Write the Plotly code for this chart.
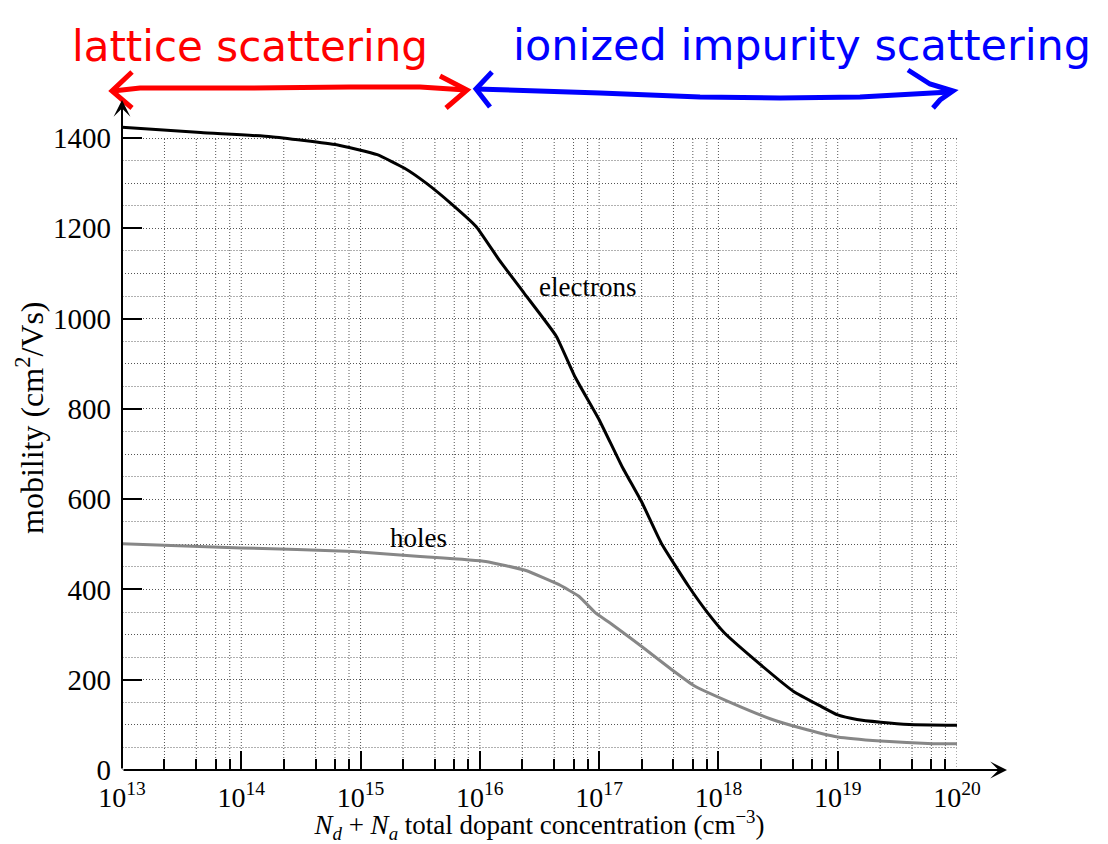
import plotly.graph_objects as go

# ---------------- data ----------------
electron_conc = [1.0e13, 4.57e13, 1.77e14, 6.3e14, 1.38e15, 2.34e15, 3.55e15, 5.9e15,
                 9.3e15, 1.45e16, 2.34e16, 4.37e16, 6.3e16, 1.0e17, 1.55e17, 2.29e17,
                 3.31e17, 5.62e17, 8.13e17, 1.12e18, 2.0e18, 4.27e18, 7.24e18, 1.0e19,
                 1.45e19, 2.29e19, 3.98e19, 1.08e20]
electron_mob = [1424, 1412, 1403, 1385, 1363, 1333, 1300, 1252,
                1204, 1130, 1057, 961, 870, 776, 673, 592,
                503, 407, 348, 304, 245, 174, 141, 122,
                112, 106, 101, 99]

hole_conc = [1.0e13, 1.0e14, 8.7e14, 3.16e15, 1.12e16, 2.43e16, 4.57e16, 6.76e16,
             9.33e16, 1.26e17, 2.29e17, 4.07e17, 6.31e17, 1.2e18, 2.75e18,
             4.9e18, 1.0e19, 2.29e19, 6.3e19, 1.0e20]
hole_mob = [501, 492, 484, 473, 462, 442, 411, 385,
            348, 324, 273, 222, 186, 152, 113,
            93, 73, 64, 58, 58]

x_exponents = list(range(13, 21))
x_tick_vals = [10.0 ** e for e in x_exponents]
x_tick_text = [f"10<sup>{e}</sup>" for e in x_exponents]
x_minor_mantissas = [2.27, 4.2, 6.1, 8.0]
y_tick_vals = list(range(0, 1401, 200))
y_mid_vals = list(range(100, 1400, 200))
y_light_vals = list(range(50, 1400, 100))
y_grid_top = 1400

# ---------------- layout geometry (reference-pixel frame) ----------------
OFF = 8                      # page body margin
W, H = 1108 - OFF, 844 - OFF
L, R, T, B = 122, 957, 115, 770  # plot area in reference pixels
T1400 = 138                      # pixel row of the 1400 gridline
y_top = y_grid_top * (B - T) / (B - T1400)


def paper(px, py):
    return ((px - L) / (R - L), (B - py) / (B - T))


def path(points):
    segs = []
    for i, (px, py) in enumerate(points):
        xp, yp = paper(px, py)
        segs.append(("M" if i == 0 else "L") + f"{xp:.5f},{yp:.5f}")
    return " ".join(segs)


FONT = "Liberation Serif"
GRID = "#555555"

fig = go.Figure()
fig.add_trace(go.Scatter(x=electron_conc, y=electron_mob, mode="lines",
                         line=dict(color="black", width=3, shape="spline", smoothing=0.4),
                         hoverinfo="skip"))
fig.add_trace(go.Scatter(x=hole_conc, y=hole_mob, mode="lines", yaxis="y2",
                         line=dict(color="#878787", width=3, shape="spline", smoothing=0.4),
                         hoverinfo="skip"))

minor_x = [m * v for v in x_tick_vals[:-1] for m in x_minor_mantissas]

fig.update_layout(
    width=W, height=H,
    margin=dict(l=L - OFF, r=1108 - R, t=T - OFF, b=844 - B, pad=0),
    paper_bgcolor="white", plot_bgcolor="white",
    showlegend=False,
    font=dict(family=FONT, size=28, color="black"),
    xaxis=dict(
        type="log", range=[13, 20],
        tickmode="array", tickvals=x_tick_vals, ticktext=x_tick_text,
        ticks="inside", ticklen=19, tickwidth=1.5, tickcolor="black",
        ticklabelstandoff=8,
        showgrid=False, showline=False, zeroline=False,
        tickfont=dict(family=FONT, size=28),
        minor=dict(tickmode="array", tickvals=minor_x, ticks="inside", ticklen=11,
                   tickwidth=1.5, tickcolor="black", showgrid=False),
        title=dict(text="<i>N<sub>d</sub></i> + <i>N<sub>a</sub></i> total dopant concentration (cm<sup>−3</sup>)",
                   font=dict(family=FONT, size=27), standoff=0),
    ),
    yaxis=dict(
        range=[0, y_top],
        tickmode="array", tickvals=y_tick_vals,
        ticks="inside", ticklen=20, tickwidth=1.5, tickcolor="black",
        ticklabelstandoff=10,
        showgrid=True, gridcolor=GRID, griddash="1px,2px", gridwidth=1,
        showline=False, zeroline=False,
        tickfont=dict(family=FONT, size=29),
        minor=dict(tickmode="array", tickvals=y_mid_vals, ticks="", showgrid=True,
                   gridcolor=GRID, griddash="1px,2px", gridwidth=1),
    ),
    yaxis2=dict(
        overlaying="y", matches="y", range=[0, y_top],
        tickmode="array", tickvals=y_light_vals, showticklabels=False, ticks="",
        showgrid=True, gridcolor="#b0b0b0", griddash="2px,1px", gridwidth=1,
        showline=False, zeroline=False,
    ),
)

annotations = []
# axis arrows
xa, _ = paper(1007, B)
annotations.append(dict(xref="paper", yref="paper", x=xa, y=0, ax=L - 1007, ay=0,
                        axref="pixel", ayref="pixel", text="", showarrow=True,
                        arrowhead=3, arrowsize=1.4, arrowwidth=2, arrowcolor="black"))
_, ya = paper(L, 100)
annotations.append(dict(xref="paper", yref="paper", x=0, y=ya, ax=0, ay=B - 100,
                        axref="pixel", ayref="pixel", text="", showarrow=True,
                        arrowhead=3, arrowsize=1.4, arrowwidth=2, arrowcolor="black"))
# y axis title
xp, yp = paper(30, 418)
annotations.append(dict(xref="paper", yref="paper", x=xp, y=yp, textangle=-90,
                        xanchor="center", yanchor="middle",
                        text="mobility (cm<sup>2</sup>/Vs)", showarrow=False,
                        font=dict(family=FONT, size=32)))
# curve labels (data coords; log axis uses exponent)
annotations.append(dict(x=16.906, y=1071, xref="x", yref="y", text="electrons",
                        showarrow=False, font=dict(family=FONT, size=27)))
annotations.append(dict(x=15.482, y=513, xref="x", yref="y", text="holes",
                        showarrow=False, font=dict(family=FONT, size=27)))
# handwritten headings
xp, yp = paper(250, 47)
annotations.append(dict(xref="paper", yref="paper", x=xp, y=yp, xanchor="center",
                        yanchor="middle", text="lattice scattering", showarrow=False,
                        font=dict(family="DejaVu Sans", size=42, color="#ff0000")))
xp, yp = paper(802, 45)
annotations.append(dict(xref="paper", yref="paper", x=xp, y=yp, xanchor="center",
                        yanchor="middle", text="ionized impurity scattering",
                        showarrow=False,
                        font=dict(family="DejaVu Sans", size=43, color="#0000ff")))
fig.update_layout(annotations=annotations)

red = "#ff0000"
blue = "#0000ff"
shapes = []
# vertical dotted gridlines up to the 1400 line
for v in x_tick_vals + minor_x:
    shapes.append(dict(type="line", xref="x", yref="y", x0=v, x1=v, y0=0, y1=y_grid_top,
                       layer="below", line=dict(color=GRID, width=1, dash="1px,2px")))
shapes += [
    dict(type="path", xref="paper", yref="paper",
         path=path([(113, 91), (140, 88), (250, 88), (350, 87), (420, 87), (466, 90)]),
         line=dict(color=red, width=5)),
    dict(type="path", xref="paper", yref="paper",
         path=path([(132, 72), (112, 91), (132, 108)]), line=dict(color=red, width=5)),
    dict(type="path", xref="paper", yref="paper",
         path=path([(440, 76), (467, 90), (446, 108)]), line=dict(color=red, width=5)),
    dict(type="path", xref="paper", yref="paper",
         path=path([(476, 89), (600, 93), (700, 97), (780, 98), (860, 97), (950, 92)]),
         line=dict(color=blue, width=5)),
    dict(type="path", xref="paper", yref="paper",
         path=path([(492, 72), (476, 89), (490, 107)]), line=dict(color=blue, width=5)),
    dict(type="path", xref="paper", yref="paper",
         path=path([(908, 70), (930, 84), (953, 91), (940, 100), (933, 108)]),
         line=dict(color=blue, width=5)),
]
fig.update_layout(shapes=shapes)

fig.write_html("out.html")
